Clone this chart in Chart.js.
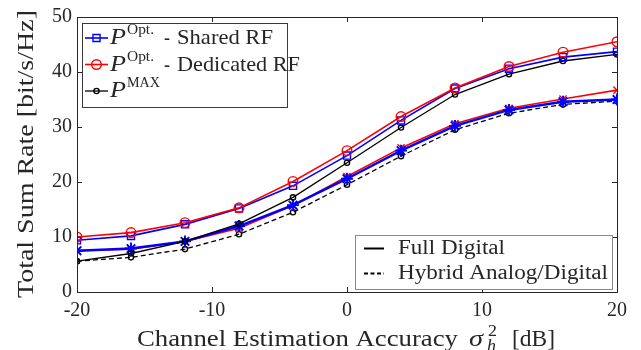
<!DOCTYPE html>
<html>
<head>
<meta charset="utf-8">
<script src="https://cdn.jsdelivr.net/npm/chart.js@4"></script>
<style>
  html, body { margin: 0; padding: 0; background: #fff; }
  #wrap { width: 641px; height: 350px; position: relative; }
</style>
</head>
<body>
<div id="wrap"><canvas id="c"></canvas></div>
<script>
// Channel estimation accuracy sigma_h^2 in dB
const accuracyDb = [-20, -16, -12, -8, -4, 0, 4, 8, 12, 16, 20];

// Total sum rate [bit/s/Hz], full digital architecture
const fullShared    = [9.4, 10.2, 12.3, 15.2, 19.3, 24.8, 31.2, 37.0, 40.6, 42.7, 43.7];
const fullDedicated = [10.0, 10.8, 12.6, 15.3, 20.1, 25.7, 31.9, 37.1, 41.0, 43.6, 45.5];
const fullMax       = [5.6, 7.0, 9.2, 12.4, 17.2, 23.5, 29.9, 35.9, 39.6, 42.0, 43.2];

// Total sum rate [bit/s/Hz], hybrid analog/digital architecture
const hybridShared    = [7.5, 7.9, 9.2, 12.0, 15.8, 20.6, 25.7, 30.2, 33.1, 34.6, 35.0];
const hybridDedicated = [7.5, 7.8, 9.2, 11.6, 15.7, 21.0, 26.2, 30.6, 33.4, 35.1, 36.7];
const hybridMax       = [5.6, 6.3, 7.8, 10.5, 14.5, 19.5, 24.7, 29.5, 32.5, 34.1, 34.7];

const xTicks = [-20, -10, 0, 10, 20];
const yTicks = [0, 10, 20, 30, 40, 50];

const SERIF = '"Liberation Serif", "DejaVu Serif", serif';
const AXIS_COLOR = '#262626';
const BLUE = '#0000ff', RED = '#ff0000', BLACK = '#000000';

const pts = arr => arr.map((v, i) => ({ x: accuracyDb[i], y: v }));

function series(data, color, style, radius, lineWidth, dash, order, markerWidth) {
  return {
    data: pts(data),
    borderColor: color,
    backgroundColor: 'rgba(0,0,0,0)',
    borderWidth: lineWidth,
    borderDash: dash || [],
    pointStyle: style,
    pointRadius: radius,
    pointHoverRadius: radius,
    pointBorderColor: color,
    pointBackgroundColor: 'rgba(0,0,0,0)',
    pointBorderWidth: markerWidth || 1.4,
    tension: 0,
    fill: false,
    order: order
  };
}

const datasets = [
  series(hybridMax, BLACK, 'circle', 2.6, 1.3, [5, 3], 6),
  series(hybridDedicated, RED, 'crossRot', 5, 1.6, null, 5),
  series(hybridShared, BLUE, 'star', 6, 2.4, null, 4, 1.9),
  series(fullMax, BLACK, 'circle', 2.6, 1.3, null, 3),
  series(fullShared, BLUE, 'rect', 5, 1.6, null, 2),
  series(fullDedicated, RED, 'circle', 4.8, 1.6, null, 1)
];

// Text stretched horizontally to a given width (wide serif look)
function fitText(ctx, text, x, y, font, width) {
  ctx.font = font;
  const w = ctx.measureText(text).width;
  ctx.save();
  ctx.translate(x, y);
  ctx.scale(width / w, 1);
  ctx.fillText(text, 0, 0);
  ctx.restore();
}

const decorations = {
  id: 'decorations',
  afterDraw(chart) {
    const { ctx, chartArea: a, scales } = chart;
    const xs = scales.x, ys = scales.y;
    ctx.save();

    // Axes box with inward ticks
    ctx.strokeStyle = AXIS_COLOR;
    ctx.lineWidth = 1;
    ctx.strokeRect(Math.round(a.left) + 0.5, Math.round(a.top) + 0.5,
                   Math.round(a.right - a.left), Math.round(a.bottom - a.top));
    const tl = 5;
    ctx.beginPath();
    for (const v of xTicks) {
      const px = Math.round(xs.getPixelForValue(v)) + 0.5;
      ctx.moveTo(px, a.bottom); ctx.lineTo(px, a.bottom - tl);
      ctx.moveTo(px, a.top); ctx.lineTo(px, a.top + tl);
    }
    for (const v of yTicks) {
      const py = Math.round(ys.getPixelForValue(v)) + 0.5;
      ctx.moveTo(a.left, py); ctx.lineTo(a.left + tl, py);
      ctx.moveTo(a.right, py); ctx.lineTo(a.right - tl, py);
    }
    ctx.stroke();

    ctx.fillStyle = AXIS_COLOR;
    ctx.textBaseline = 'alphabetic';
    ctx.textAlign = 'left';

    // Y axis title
    ctx.save();
    ctx.translate(33, 154);
    ctx.rotate(-Math.PI / 2);
    fitText(ctx, 'Total Sum Rate [bit/s/Hz]', -144, 0, '24px ' + SERIF, 288);
    ctx.restore();

    // X axis title with sigma_h^2
    const base = 346;
    fitText(ctx, 'Channel Estimation Accuracy', 137, base, '24px ' + SERIF, 321);
    fitText(ctx, 'σ', 469, base, 'italic 24px ' + SERIF, 14);
    fitText(ctx, '2', 488, base - 10, '16px ' + SERIF, 9);
    fitText(ctx, 'h', 487, base + 5, 'italic 16px ' + SERIF, 9);
    fitText(ctx, '[dB]', 512, base, '24px ' + SERIF, 43);

    // Legend: algorithms
    ctx.fillStyle = '#fff';
    ctx.fillRect(82, 23, 205, 84);
    ctx.strokeStyle = '#3a3a3a';
    ctx.lineWidth = 1;
    ctx.strokeRect(82.5, 23.5, 205, 84);
    const rows = [
      { ds: datasets[4], y: 38, sup: 'Opt.', supW: 27, rest: 'Shared RF', restW: 96 },
      { ds: datasets[5], y: 64.5, sup: 'Opt.', supW: 27, rest: 'Dedicated RF', restW: 123 },
      { ds: datasets[3], y: 91, sup: 'MAX', supW: 33, rest: '', restW: 0 }
    ];
    for (const r of rows) {
      ctx.strokeStyle = r.ds.borderColor;
      ctx.lineWidth = r.ds.borderWidth;
      ctx.setLineDash([]);
      ctx.beginPath(); ctx.moveTo(85, r.y); ctx.lineTo(108, r.y); ctx.stroke();
      ctx.fillStyle = 'rgba(0,0,0,0)';
      ctx.lineWidth = 1.4;
      Chart.helpers.drawPoint(ctx, {
        pointStyle: r.ds.pointStyle, radius: r.ds.pointRadius, borderWidth: 1.4, rotation: 0
      }, 96.5, r.y);
      ctx.fillStyle = '#262626';
      const tb = r.y + 6;
      fitText(ctx, 'P', 110, tb, 'italic 23px ' + SERIF, 16);
      fitText(ctx, r.sup, 127, tb - 10, '15px ' + SERIF, r.supW);
      if (r.rest) {
        fitText(ctx, '-', 164, tb, '21px ' + SERIF, 6);
        fitText(ctx, r.rest, 177, tb, '21px ' + SERIF, r.restW);
      }
    }

    // Legend: architectures
    ctx.fillStyle = '#fff';
    ctx.fillRect(355, 235, 257, 54);
    ctx.strokeStyle = '#8a8a8a';
    ctx.lineWidth = 1;
    ctx.strokeRect(355.5, 235.5, 257, 54);
    const arch = [
      { label: 'Full Digital', y: 248, dash: [], w: 107 },
      { label: 'Hybrid Analog/Digital', y: 273, dash: [4, 2.5], w: 210 }
    ];
    for (const r of arch) {
      ctx.strokeStyle = BLACK;
      ctx.lineWidth = 2;
      ctx.setLineDash(r.dash);
      ctx.beginPath(); ctx.moveTo(364, r.y + 0.5); ctx.lineTo(384, r.y + 0.5); ctx.stroke();
      ctx.setLineDash([]);
      ctx.fillStyle = '#262626';
      fitText(ctx, r.label, 398, r.y + 6, '20px ' + SERIF, r.w);
    }
    ctx.restore();
  }
};

new Chart(document.getElementById('c'), {
  type: 'line',
  data: { datasets },
  options: {
    responsive: true,
    maintainAspectRatio: false,
    animation: false,
    events: [],
    layout: { padding: { left: 0, right: 24, top: 17, bottom: 0 } },
    plugins: { legend: { display: false }, tooltip: { enabled: false } },
    scales: {
      x: {
        type: 'linear', min: -20, max: 20,
        grid: { display: false, drawTicks: false }, border: { display: false },
        afterBuildTicks: s => { s.ticks = xTicks.map(v => ({ value: v })); },
        afterFit: s => { s.height = 58; },
        ticks: { color: '#262626', padding: 7, maxRotation: 0,
                 font: { family: SERIF, size: 20 }, callback: v => String(v) }
      },
      y: {
        min: 0, max: 50,
        grid: { display: false, drawTicks: false }, border: { display: false },
        afterBuildTicks: s => { s.ticks = yTicks.map(v => ({ value: v })); },
        afterFit: s => { s.width = 77; },
        ticks: { color: '#262626', padding: 5,
                 font: { family: SERIF, size: 20 }, callback: v => String(v) }
      }
    }
  },
  plugins: [decorations]
});
</script>
</body>
</html>
